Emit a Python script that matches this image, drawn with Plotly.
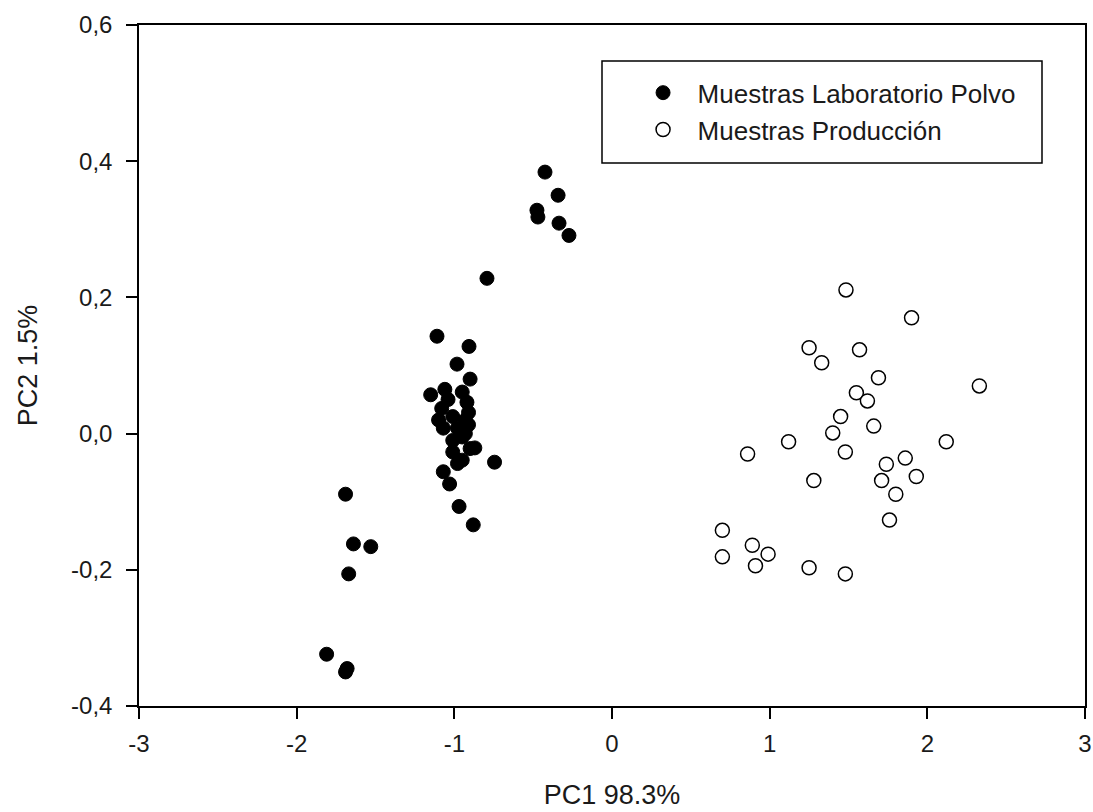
import plotly.graph_objects as go

lab_x = [-0.425, -0.342, -0.476, -0.470, -0.336, -0.273, -0.793,
         -1.11, -0.907, -0.983, -0.90, -1.15, -1.06, -0.95, -0.92, -1.08, -0.91,
         -1.10, -1.01, -0.91, -1.07, -0.98, -0.93, -1.01, -0.95, -0.87, -0.90,
         -1.01, -0.95, -0.98, -0.745, -1.07, -1.03, -0.97, -0.88, -1.04, -0.93,
         -1.69, -1.64, -1.53, -1.67, -1.81, -1.69, -1.68]
lab_y = [0.384, 0.350, 0.328, 0.318, 0.309, 0.291, 0.228,
         0.143, 0.128, 0.102, 0.080, 0.057, 0.065, 0.061, 0.046, 0.037, 0.031,
         0.020, 0.025, 0.013, 0.008, 0.008, 0.000, -0.010, -0.005, -0.021, -0.022,
         -0.027, -0.039, -0.044, -0.042, -0.056, -0.074, -0.107, -0.134, 0.050, 0.020,
         -0.089, -0.162, -0.166, -0.206, -0.324, -0.350, -0.345]

prod_x = [1.484, 1.90, 1.25, 1.33, 1.57, 1.69, 2.33, 1.55, 1.62, 1.45,
          1.66, 1.40, 1.12, 2.12, 0.86, 1.48, 1.86, 1.74, 1.93, 1.28,
          1.71, 1.80, 1.76, 0.70, 0.89, 0.99, 0.70, 0.91, 1.25, 1.48]
prod_y = [0.211, 0.170, 0.126, 0.104, 0.123, 0.082, 0.070, 0.060, 0.048, 0.025,
          0.011, 0.001, -0.012, -0.012, -0.030, -0.027, -0.036, -0.045, -0.063, -0.069,
          -0.069, -0.089, -0.127, -0.142, -0.164, -0.177, -0.181, -0.194, -0.197, -0.206]

x_ticks = [-3, -2, -1, 0, 1, 2, 3]
x_labels = ["-3", "-2", "-1", "0", "1", "2", "3"]
y_ticks = [-0.4, -0.2, 0.0, 0.2, 0.4, 0.6]
y_labels = ["-0,4", "-0,2", "0,0", "0,2", "0,4", "0,6"]

font = "Liberation Sans, Arial, sans-serif"
txt = "#1a1a1a"

fig = go.Figure()
fig.add_trace(go.Scatter(
    x=lab_x, y=lab_y, mode="markers", name="Muestras Laboratorio Polvo",
    legendgroup="a",
    marker=dict(symbol="circle", size=14, color="black", line=dict(color="black", width=1)),
))
fig.add_trace(go.Scatter(
    x=prod_x, y=prod_y, mode="markers", name="Muestras Producción",
    legendgroup="b",
    marker=dict(symbol="circle", size=14, color="white", line=dict(color="black", width=1.5)),
))

axis_common = dict(
    showline=True, linecolor="black", linewidth=1.5, mirror=True,
    ticks="outside", ticklen=11, tickwidth=1.5, tickcolor="black",
    showgrid=False, zeroline=False, automargin=False,
    tickfont=dict(family=font, size=24, color=txt),
)

fig.update_layout(
    width=1093, height=812,
    margin=dict(l=139, r=8, t=25, b=106),
    paper_bgcolor="white", plot_bgcolor="white",
    xaxis=dict(range=[-3, 3], tickvals=x_ticks, ticktext=x_labels,
               ticklabelstandoff=4,
               title=dict(text="PC1 98.3%", font=dict(family=font, size=27, color=txt), standoff=30),
               **axis_common),
    yaxis=dict(range=[-0.4, 0.6], tickvals=y_ticks, ticktext=y_labels,
               ticklabelstandoff=9,
               title=dict(text="PC2 1.5%", font=dict(family=font, size=27, color=txt), standoff=26),
               **axis_common),
    legend=dict(x=0.5175, y=0.935, xanchor="left", yanchor="top",
                bgcolor="rgba(0,0,0,0)", borderwidth=0,
                font=dict(family=font, size=26, color=txt),
                traceorder="grouped", tracegroupgap=0, itemwidth=59),
    showlegend=True,
    shapes=[dict(type="rect", xref="paper", yref="paper",
                 x0=(602 - 139) / 946, x1=(1042 - 139) / 946,
                 y0=(706 - 163) / 681, y1=(706 - 61) / 681,
                 line=dict(color="black", width=1.5), fillcolor="rgba(0,0,0,0)")],
)

fig.write_html("out.html")
